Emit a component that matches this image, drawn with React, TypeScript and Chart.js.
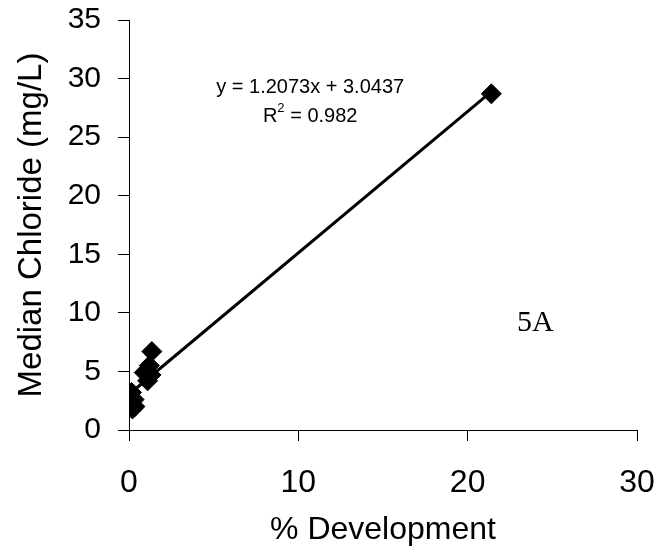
import React, { useEffect, useRef } from "react";
import { Chart, registerables } from "chart.js";

Chart.register(...registerables);

const devPct = [0.15, 0.2, 0.35, 0.3, 0.9, 1.1, 1.2, 1.35, 1.3, 21.4];
const medianChloride = [3.2, 1.8, 2.0, 2.6, 4.9, 4.2, 5.5, 6.7, 4.7, 28.7];
const slope = 1.2073;
const intercept = 3.0437;
const eqText = "y = 1.2073x + 3.0437";
const r2Text = "= 0.982";
const panelLabel = "5A";

const SANS = "'Liberation Sans', Arial, sans-serif";

export default function App() {
  const ref = useRef<HTMLCanvasElement | null>(null);
  useEffect(() => {
    if (!ref.current) return;
    const xMin = Math.min(...devPct);
    const xMax = Math.max(...devPct);
    const trend = [
      { x: xMin, y: slope * xMin + intercept },
      { x: xMax, y: slope * xMax + intercept },
    ];
    const textPlugin = {
      id: "texts",
      afterDatasetsDraw(chart: any) {
        const { ctx, scales } = chart;
        const xs = scales.x;
        const ys = scales.y;
        ctx.save();
        ctx.fillStyle = "#000";
        ctx.textAlign = "center";
        ctx.textBaseline = "middle";
        ctx.font = `20px ${SANS}`;
        const cx = xs.getPixelForValue(10.7);
        ctx.fillText(eqText, cx, ys.getPixelForValue(29.2));
        const y2 = ys.getPixelForValue(26.8);
        const rW = ctx.measureText("R").width;
        const restW = ctx.measureText(" " + r2Text).width;
        ctx.font = `13px ${SANS}`;
        const supW = ctx.measureText("2").width;
        const total = rW + supW + restW;
        const start = cx - total / 2;
        ctx.textAlign = "left";
        ctx.font = `20px ${SANS}`;
        ctx.fillText("R", start, y2);
        ctx.font = `13px ${SANS}`;
        ctx.fillText("2", start + rW, y2 - 8);
        ctx.font = `20px ${SANS}`;
        ctx.fillText(" " + r2Text, start + rW + supW, y2);
        ctx.textAlign = "center";
        ctx.font = "30px 'Liberation Serif', 'Times New Roman', serif";
        ctx.fillText(panelLabel, xs.getPixelForValue(24.0), ys.getPixelForValue(9.1));
        ctx.restore();
      },
    };
    const chart = new Chart(ref.current, {
      type: "scatter",
      data: {
        datasets: [
          {
            type: "line",
            data: trend,
            borderColor: "#000",
            borderWidth: 3,
            pointRadius: 0,
            showLine: true,
            fill: false,
          } as any,
          {
            data: devPct.map((x, i) => ({ x, y: medianChloride[i] })),
            pointStyle: "rectRot",
            pointRadius: 10,
            backgroundColor: "#000",
            borderColor: "#000",
            borderWidth: 1,
          },
        ],
      },
      options: {
        animation: false,
        responsive: false,
        devicePixelRatio: 1,
        layout: { padding: { left: 0, right: 21, top: 20, bottom: 0 } },
        plugins: { legend: { display: false }, tooltip: { enabled: false } },
        scales: {
          x: {
            type: "linear",
            min: 0,
            max: 30,
            ticks: {
              stepSize: 10,
              color: "#000",
              padding: 23,
              font: { family: SANS, size: 32 },
            },
            grid: { drawOnChartArea: false, drawTicks: true, tickLength: 11, color: "#000", lineWidth: 1 },
            border: { color: "#000", width: 1 },
            title: {
              display: true,
              text: "% Development",
              color: "#000",
              font: { family: SANS, size: 32 },
              padding: { top: 0, bottom: 8 },
            },
            afterFit(scale: any) {
              scale.height = 127;
              scale.paddingLeft = 0;
              scale.paddingRight = 0;
            },
          },
          y: {
            type: "linear",
            min: 0,
            max: 35,
            ticks: {
              stepSize: 5,
              color: "#000",
              padding: 17,
              font: { family: SANS, size: 30 },
            },
            grid: { drawOnChartArea: false, drawTicks: true, tickLength: 11, color: "#000", lineWidth: 1 },
            border: { color: "#000", width: 1 },
            title: {
              display: true,
              text: "Median Chloride (mg/L)",
              color: "#000",
              font: { family: SANS, size: 33 },
              padding: { top: 12, bottom: 0 },
            },
            afterFit(scale: any) {
              scale.width = 129;
              scale.paddingTop = 0;
              scale.paddingBottom = 0;
            },
          },
        },
      },
      plugins: [textPlugin],
    });
    return () => chart.destroy();
  }, []);
  return (
    <div style={{ position: "absolute", left: 0, top: 0, width: 658, height: 557, background: "#fff" }}>
      <canvas ref={ref} width={658} height={557} style={{ display: "block" }} />
    </div>
  );
}
